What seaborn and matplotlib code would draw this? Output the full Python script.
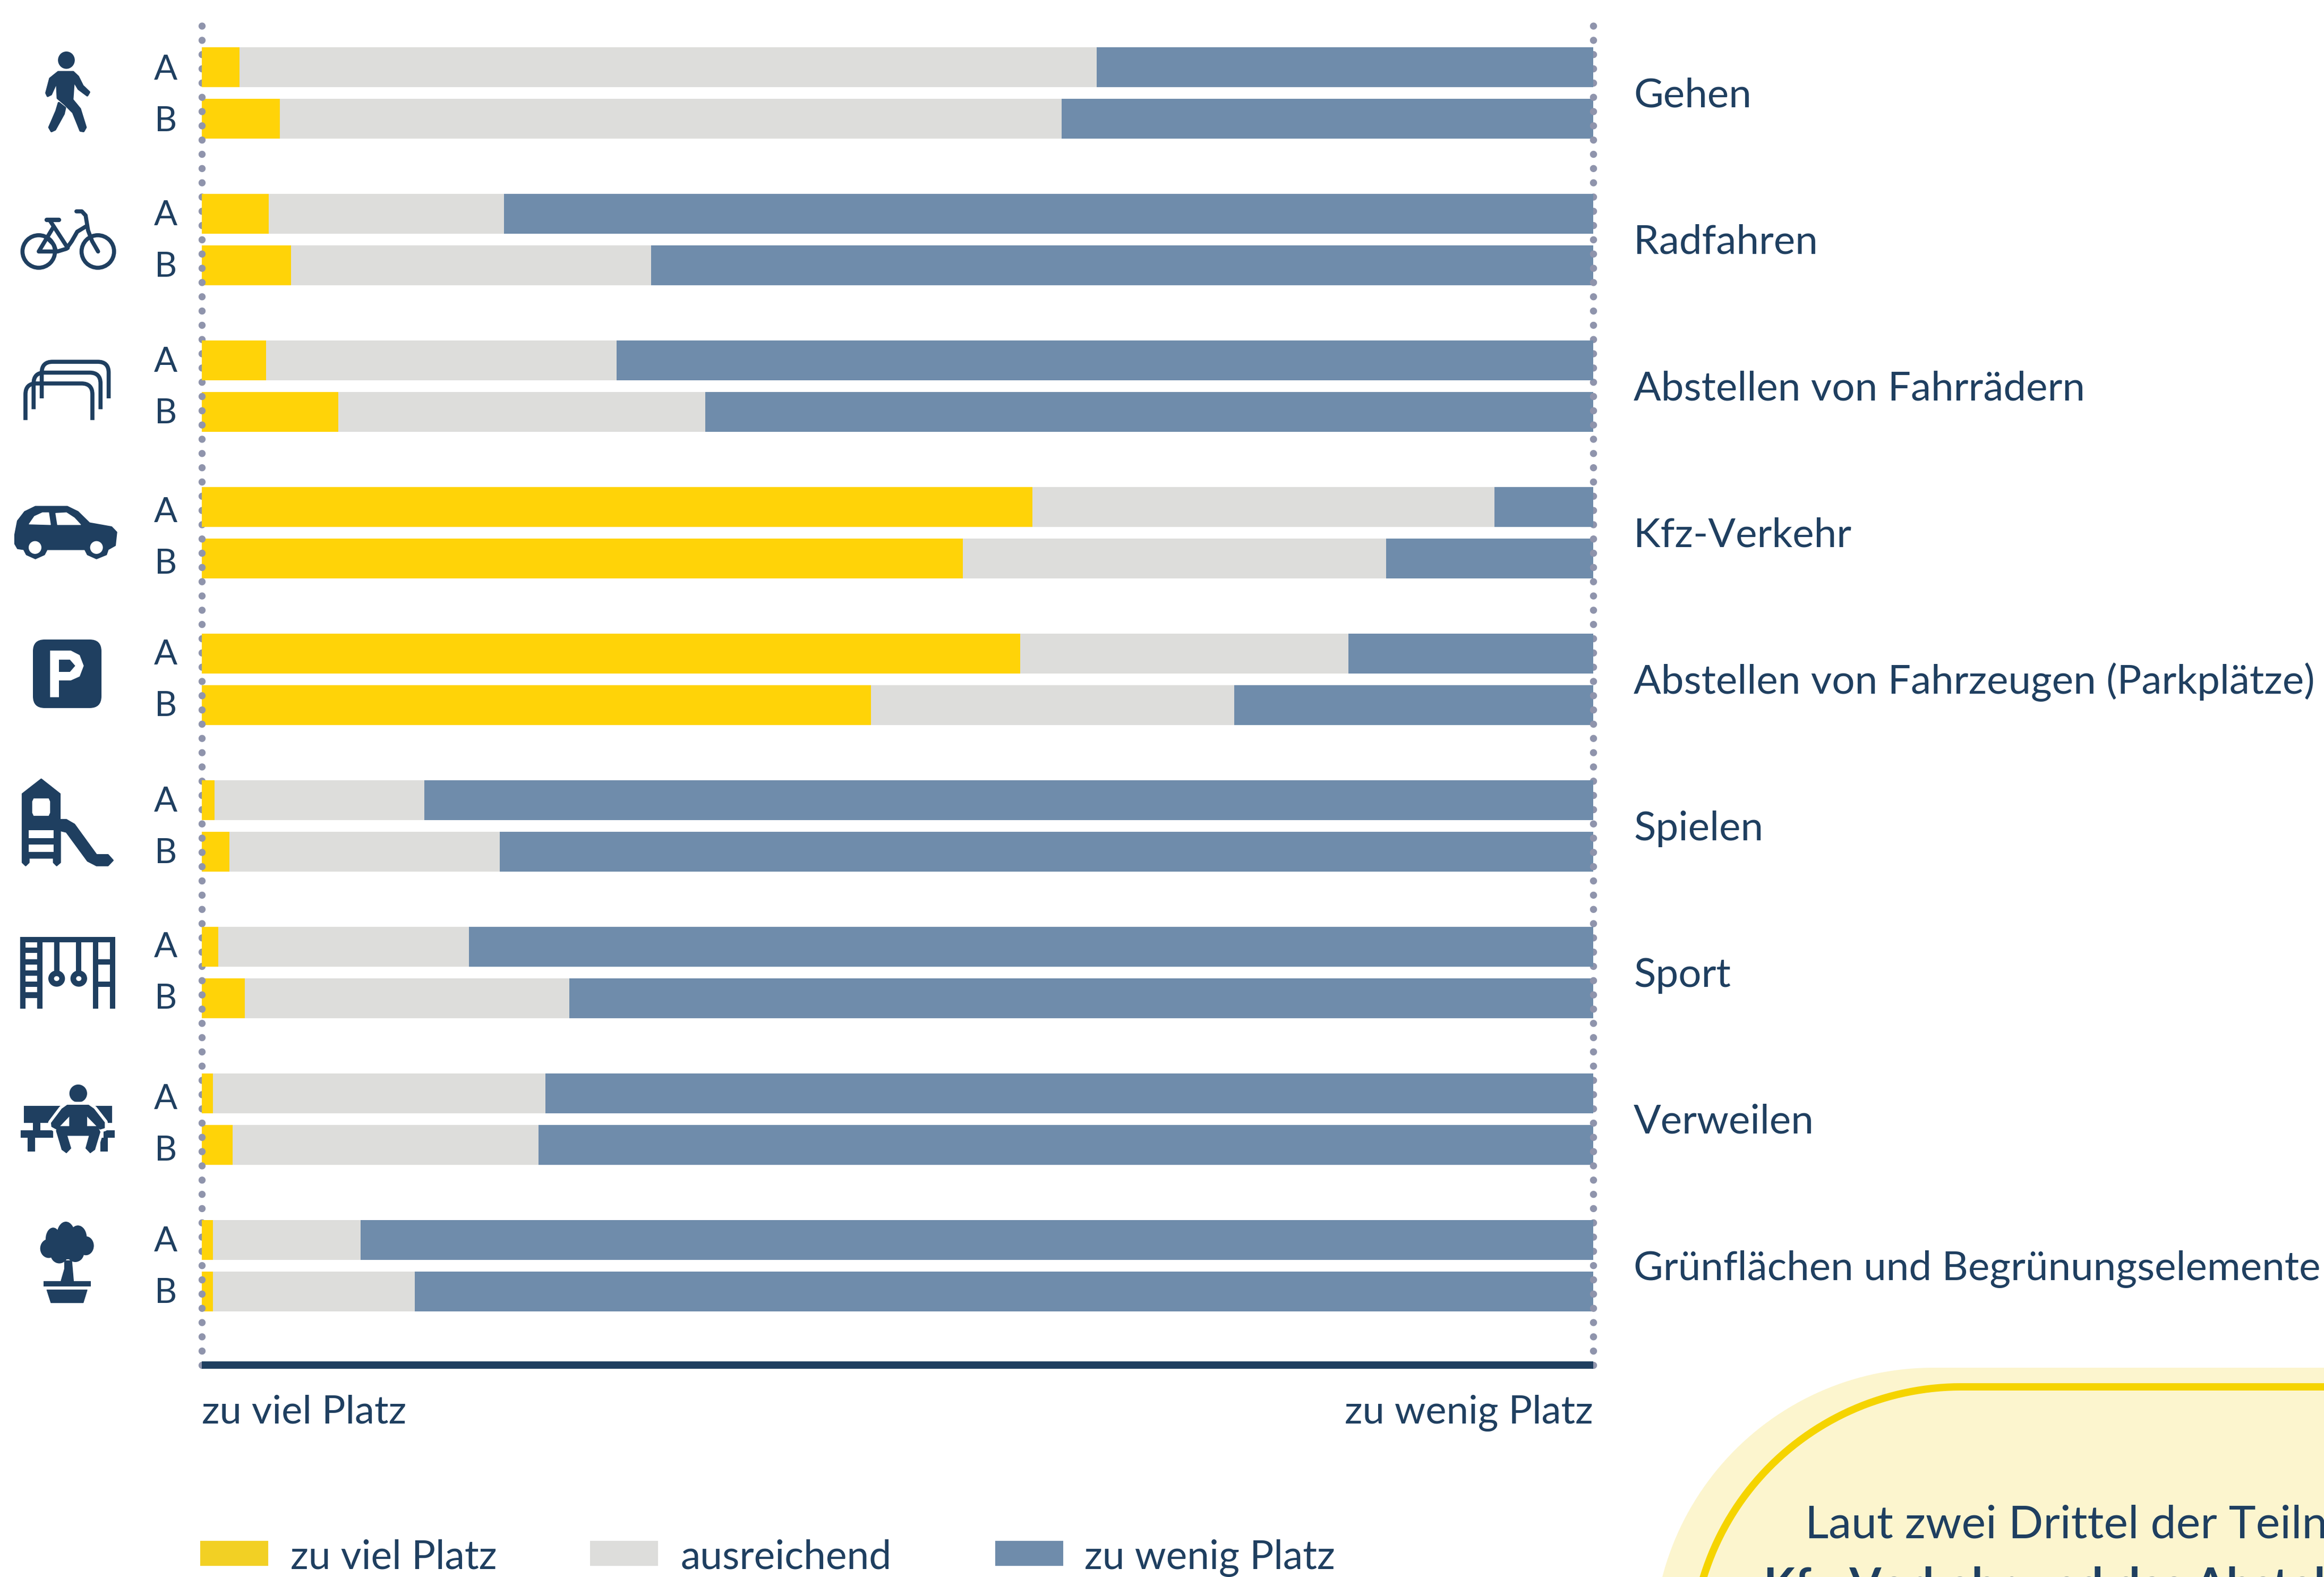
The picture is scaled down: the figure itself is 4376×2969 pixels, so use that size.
import numpy as np
import pandas as pd
import matplotlib
matplotlib.use("Agg")
import matplotlib.pyplot as plt
import seaborn as sns
from matplotlib.patches import Ellipse, FancyBboxPatch, PathPatch, Polygon, Rectangle
from matplotlib.path import Path

# ==========================================
# 1. Data
# ==========================================

categories = [
    "Gehen",
    "Radfahren",
    "Abstellen von Fahrrädern",
    "Kfz-Verkehr",
    "Abstellen von Fahrzeugen (Parkplätze)",
    "Spielen",
    "Sport",
    "Verweilen",
    "Grünflächen und Begrünungselemente",
]
variants = ["A", "B"]

# A, B per category, in percent
zu_viel = [2.7, 5.6, 4.8, 6.4, 4.6, 9.8, 59.7, 54.7, 58.8, 48.1, 0.9, 2.0, 1.2, 3.1, 0.8, 2.2, 0.8, 0.8]
ausreichend = [61.6, 56.2, 16.9, 25.9, 25.2, 26.4, 33.2, 30.4, 23.6, 26.1, 15.1, 19.4, 18.0, 23.3, 23.9, 22.0, 10.6, 14.5]
zu_wenig = [35.7, 38.2, 78.3, 67.7, 70.2, 63.8, 7.1, 14.9, 17.6, 25.8, 84.0, 78.6, 80.8, 73.6, 75.3, 75.8, 88.6, 84.7]

legend_labels = ["zu viel Platz", "ausreichend", "zu wenig Platz"]
axis_labels = ["zu viel Platz", "zu wenig Platz"]
panel_lines = ["Laut zwei Drittel der Teilnehmenden", "Kfz-Verkehr und das Abstellen von Fahrzeugen"]

# small shift of the A/B letters per group, in pixels
letter_shift = [0, -2, -2, 5, -3, -2, -4, 6, -2]

df = pd.DataFrame({
    "kategorie": np.repeat(categories, 2),
    "variante": variants * len(categories),
    "zu_viel": zu_viel,
    "ausreichend": ausreichend,
    "zu_wenig": zu_wenig,
})
df["bis_ausreichend"] = df["zu_viel"] + df["ausreichend"]
df["gesamt"] = df["bis_ausreichend"] + df["zu_wenig"]

# ==========================================
# 2. Style
# ==========================================

YELLOW = "#FFD308"
GREY = "#DDDDDB"
BLUE = "#6F8CAB"
NAVY = "#1F3F60"
DOTS = "#8F94AC"

W, H = 4376, 2969
PITCH = 276.0

sns.set_theme(style="white")
plt.rcParams["font.family"] = ["Lato", "DejaVu Sans"]
plt.rcParams["text.color"] = NAVY

fig = plt.figure(figsize=(W / 100, H / 100), dpi=100, facecolor="white")

# overlay in image pixels for icons, legend and the box
bg = fig.add_axes([0, 0, 1, 1])
bg.set_xlim(0, W)
bg.set_ylim(H, 0)
bg.axis("off")

ax = fig.add_axes([380 / W, 1 - 2570 / H, 2620 / W, 2532 / H])
ax.patch.set_alpha(0)

# ==========================================
# 3. Stacked bars (layered, longest first)
# ==========================================

for col, color in [("gesamt", BLUE), ("bis_ausreichend", GREY), ("zu_viel", YELLOW)]:
    sns.barplot(
        data=df,
        y="kategorie",
        x=col,
        hue="variante",
        order=categories,
        palette=[color, color],
        width=0.703,
        gap=0.237,
        saturation=1,
        linewidth=0,
        legend=False,
        errorbar=None,
        ax=ax,
    )

# A bars cover the dotted lines, B bars sit under them
for i, container in enumerate(ax.containers):
    for bar in container:
        bar.set_zorder(3 if i % 2 == 0 else 1)

ax.set_xlim(0, 100)
y_bottom = (2570 - 175) / PITCH
y_top = (38 - 175) / PITCH
ax.set_ylim(y_bottom, y_top)
ax.set_xlabel("")
ax.set_ylabel("")

for x in [0, 100]:
    ax.plot(
        [x, x], [y_bottom, (42 - 175) / PITCH],
        color=DOTS, lw=9.7, ls=(0, (0.001, 1.99)),
        dash_capstyle="round", clip_on=False, zorder=2,
    )

for side in ["top", "left", "right"]:
    ax.spines[side].set_visible(False)
ax.spines["bottom"].set_color(NAVY)
ax.spines["bottom"].set_linewidth(10)
ax.spines["bottom"].set_capstyle("butt")
ax.spines["bottom"].set_zorder(4)

ax.set_xticks([0, 100], labels=axis_labels)
ax.tick_params(axis="x", length=0, pad=79, labelsize=53.5, labelcolor=NAVY)
for label, ha in zip(ax.get_xticklabels(), ["left", "right"]):
    label.set_ha(ha)
    label.set_va("baseline")

ax.set_yticks(range(len(categories)), labels=[])
ax.tick_params(axis="y", length=0)

for i, cat in enumerate(categories):
    ax.annotate(
        cat, xy=(100, i), xytext=(76, -27), textcoords="offset pixels",
        fontsize=55, color=NAVY, va="baseline", ha="left", annotation_clip=False,
    )
    for off, var in zip([-48.5, 48.5], variants):
        ax.annotate(
            var, xy=(0, i + off / PITCH), xytext=(-68, -23.5 - letter_shift[i]),
            textcoords="offset pixels", fontsize=47, color=NAVY,
            va="baseline", ha="center", annotation_clip=False,
        )

# ==========================================
# 4. Legend
# ==========================================

LEGEND_X = [(377, 547), (1111, 1282), (1874, 2042)]
LEGEND_C = ["#F2D024", GREY, BLUE]
for (sx, tx), c, lab in zip(LEGEND_X, LEGEND_C, legend_labels):
    bg.add_patch(Rectangle((sx, 2901), 128, 47, fc=c, ec="none"))
    bg.text(tx, 2954, lab, fontsize=54, color=NAVY, va="baseline", ha="left")

# ==========================================
# 5. Box bottom right (runs off the picture)
# ==========================================

def box_path(left, top, r):
    t = np.linspace(np.pi, 1.5 * np.pi, 60)
    cx, cy = left + r, top + r
    pts = [(left, H + 200)] + list(zip(cx + r * np.cos(t), cy + r * np.sin(t))) + [(W + 200, top), (W + 200, H + 200)]
    return pts

bg.add_patch(Polygon(box_path(3113, 2575, 527), closed=True, fc="#FCF5CE", ec="none"))
bg.add_patch(Polygon(box_path(3185, 2611, 508), closed=True, fc="#FCF5CE", ec="#F5D400", lw=10))
bg.text(3399, 2895, panel_lines[0], fontsize=62, color=NAVY, va="baseline", ha="left")
bg.text(3321, 3013, panel_lines[1], fontsize=62, fontweight="bold", color=NAVY, va="baseline", ha="left")

# ==========================================
# 6. Icons (traced by hand, crop coordinates)
# ==========================================

def shape(pts, sx, sy, oy, color=NAVY, lw=2):
    xy = [(x * sx, oy + y * sy) for x, y in pts]
    bg.add_patch(Polygon(xy, closed=True, fc=color, ec=color, lw=lw, joinstyle="round"))

def stroke(pts, sx, sy, oy, lw, cap="round"):
    xy = np.array([(x * sx, oy + y * sy) for x, y in pts])
    bg.plot(xy[:, 0], xy[:, 1], color=NAVY, lw=lw, solid_capstyle=cap, solid_joinstyle="round")

def box(x0, y0, x1, y1, sx, sy, oy, color=NAVY):
    bg.add_patch(Rectangle((x0 * sx, oy + y0 * sy), (x1 - x0) * sx, (y1 - y0) * sy, fc=color, ec="none"))

def oval(x, y, rx, ry, sx, sy, oy, color=NAVY):
    bg.add_patch(Ellipse((x * sx, oy + y * sy), 2 * rx * sx, 2 * ry * sy, fc=color, ec="none"))

S1 = 1 / 1.96
S3X, S3Y = 1 / 3, 1 / 1.742
S4X, S4Y = 1 / 3, 1 / 1.96

# walking person
oval(245, 222, 31, 32, S1, S1, 0)
shape([(215, 266), (270, 266), (288, 283), (305, 317), (329, 340), (322, 352), (290, 328), (272, 298),
       (267, 368), (295, 402), (316, 470), (308, 484), (297, 482), (270, 415), (240, 385), (213, 362),
       (210, 300), (188, 348), (176, 354), (171, 343), (185, 290)], S1, S1, 0, lw=3)
shape([(217, 380), (240, 398), (235, 420), (203, 478), (190, 484), (182, 470), (208, 410)], S1, S1, 0, lw=3)

# bicycle
for wx in [143, 361]:
    bg.add_patch(Ellipse((wx * S1, 928 * S1), 120 * S1, 120 * S1, fc="none", ec=NAVY, lw=5.5))
stroke([(172, 812), (218, 812)], S1, S1, 0, 6)
stroke([(185, 815), (250, 915)], S1, S1, 0, 5.5)
stroke([(197, 838), (143, 928), (212, 928), (245, 918), (265, 890), (285, 855), (318, 835)], S1, S1, 0, 5.5)
stroke([(180, 885), (200, 905), (208, 928)], S1, S1, 0, 5)
stroke([(282, 780), (302, 780), (316, 795), (325, 850), (340, 890), (362, 928)], S1, S1, 0, 5.5)

# bicycle racks
for dx, dy in [(0, 0), (30, -40), (60, -80)]:
    x0, x1 = (94 + dx) * S1, (341 + dx) * S1
    top, low = (1415 + dy) * S1, (1550 + dy) * S1
    r = 40 * S1
    verts = [(x0, low), (x0, top + r), (x0, top), (x0 + r, top), (x1 - r, top), (x1, top), (x1, top + r), (x1, low)]
    codes = [Path.MOVETO, Path.LINETO, Path.CURVE3, Path.CURVE3, Path.LINETO, Path.CURVE3, Path.CURVE3, Path.LINETO]
    bg.add_patch(PathPatch(Path(verts, codes), fc="none", ec=NAVY, lw=5.5, capstyle="butt"))

# car
shape([(85, 360), (100, 315), (140, 285), (200, 268), (380, 268), (440, 285), (505, 322), (630, 335), (658, 352),
       (650, 395), (610, 408), (600, 425), (545, 438), (495, 425), (480, 408), (265, 408), (250, 425), (200, 438),
       (150, 425), (135, 408), (100, 405), (85, 390)], S3X, S3Y, 800)
shape([(165, 325), (195, 300), (240, 288), (275, 288), (285, 327)], S3X, S3Y, 800, color="white", lw=1)
shape([(315, 290), (375, 288), (420, 305), (455, 327), (325, 327)], S3X, S3Y, 800, color="white", lw=1)
oval(198, 402, 36, 21, S3X, S3Y, 800, "white")
oval(545, 402, 36, 21, S3X, S3Y, 800, "white")

# parking sign
bg.add_patch(FancyBboxPatch((76, 1218), 101, 101, boxstyle="round,pad=14,rounding_size=22", fc=NAVY, ec="none"))
shape([(283, 740), (400, 740), (450, 755), (473, 790), (450, 825), (400, 838), (333, 838), (333, 893), (283, 893)],
      S3X, S3Y, 800, color="white", lw=0)
shape([(333, 770), (395, 770), (425, 790), (395, 810), (333, 810)], S3X, S3Y, 800, lw=0)

# slide
shape([(127, 1210), (233, 1162), (338, 1210), (338, 1295), (375, 1295), (420, 1310), (545, 1410), (610, 1410),
       (638, 1428), (610, 1445), (545, 1445), (495, 1430), (375, 1335), (340, 1330), (340, 1435), (320, 1445),
       (303, 1435), (303, 1420), (163, 1420), (163, 1435), (145, 1445), (127, 1435)], S3X, S3Y, 800)
shape([(190, 1225), (275, 1225), (283, 1235), (283, 1272), (275, 1282), (190, 1282), (182, 1272), (182, 1235)],
      S3X, S3Y, 800, color="white", lw=0)
box(162, 1330, 303, 1355, S3X, S3Y, 800, "white")
box(162, 1377, 303, 1400, S3X, S3Y, 800, "white")

# climbing frame
box(115, 125, 650, 145, S4X, S4Y, 1700)
for x0, x1 in [(115, 145), (209, 240), (525, 555), (620, 650)]:
    box(x0, 125, x1, 390, S4X, S4Y, 1700)
for y0 in [165, 207, 248, 290, 330]:
    box(145, y0, 209, y0 + 20, S4X, S4Y, 1700)
for y0 in [207, 290]:
    box(555, y0, 620, y0 + 20, S4X, S4Y, 1700)
for x0 in [305, 430]:
    box(x0, 145, x0 + 30, 255, S4X, S4Y, 1700)
    oval(x0 + 15, 279, 47, 30, S4X, S4Y, 1700)
    oval(x0 + 15, 279, 15, 9, S4X, S4Y, 1700, "white")

# person on a bench
box(135, 748, 355, 812, S4X, S4Y, 1700)
box(525, 748, 632, 812, S4X, S4Y, 1700)
box(117, 838, 300, 866, S4X, S4Y, 1700)
box(585, 838, 648, 866, S4X, S4Y, 1700)
box(157, 866, 197, 918, S4X, S4Y, 1700)
box(568, 866, 608, 918, S4X, S4Y, 1700)
box(187, 812, 228, 838, S4X, S4Y, 1700)
oval(442, 703, 50, 33, S4X, S4Y, 1700)
bench_body = [(380, 746), (500, 746), (530, 760), (590, 810), (590, 830), (565, 835), (490, 785), (490, 825),
              (550, 825), (565, 845), (535, 910), (510, 922), (485, 905), (505, 858), (378, 858), (400, 905),
              (375, 922), (350, 910), (318, 840), (335, 825), (393, 825), (393, 785), (320, 835), (292, 825),
              (290, 812), (350, 760)]
shape(bench_body, S4X, S4Y, 1700, color="white", lw=9)
shape(bench_body, S4X, S4Y, 1700, lw=1)

# tree in a pot
for x, y, rx, ry in [(372, 1228, 52, 52), (300, 1240, 42, 42), (440, 1235, 50, 45), (275, 1275, 48, 35),
                     (485, 1265, 45, 35), (335, 1295, 50, 35), (425, 1290, 50, 35), (380, 1265, 80, 50)]:
    oval(x, y, rx, ry, S4X, S4Y, 1700)
shape([(365, 1320), (405, 1320), (415, 1395), (345, 1395), (365, 1350)], S4X, S4Y, 1700, lw=1)
box(247, 1395, 512, 1415, S4X, S4Y, 1700)
shape([(265, 1428), (492, 1428), (470, 1475), (288, 1475)], S4X, S4Y, 1700, lw=1)

# ==========================================
# 7. Save
# ==========================================

fig.savefig("out.png", dpi=100, facecolor="white")
